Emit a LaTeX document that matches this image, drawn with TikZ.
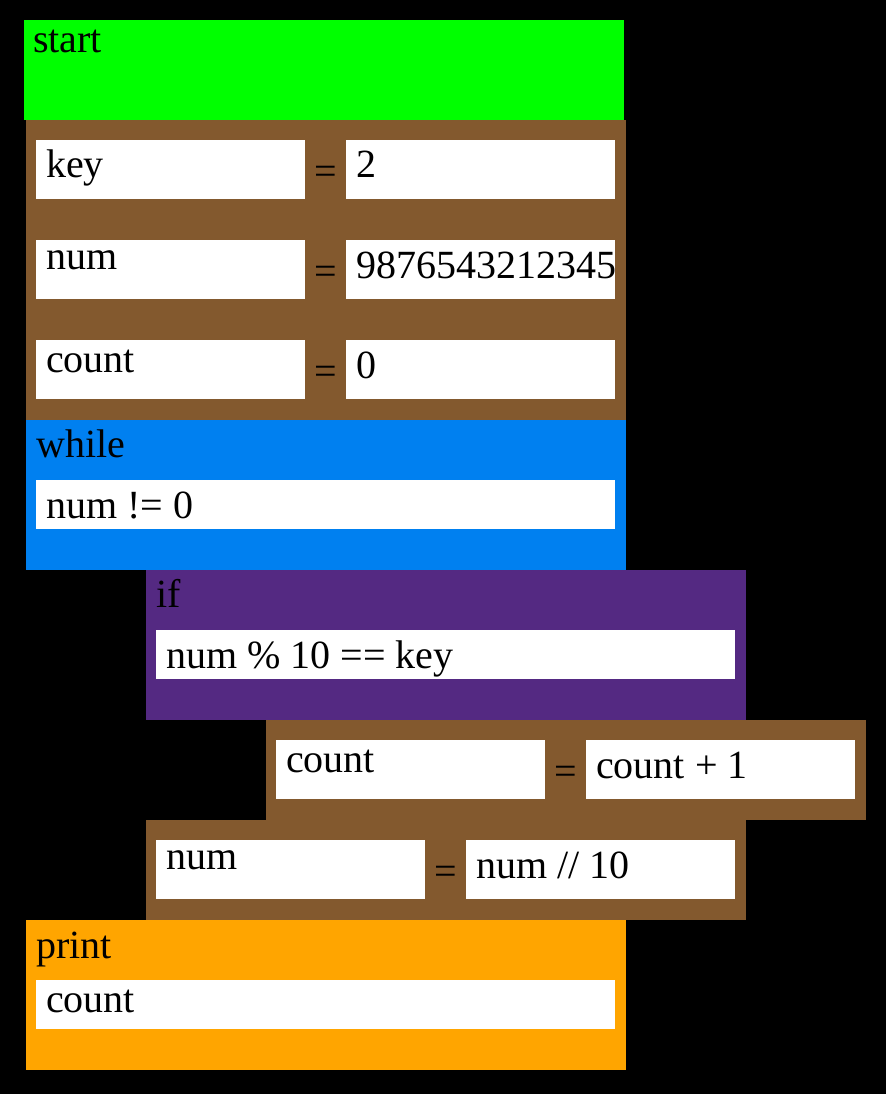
\documentclass[tikz,border=0pt]{standalone}
\usepackage{fontspec}
\setmainfont{Liberation Serif}

\definecolor{blkgreen}{RGB}{0,255,0}
\definecolor{blkbrown}{RGB}{131,89,46}
\definecolor{blkblue}{RGB}{0,128,240}
\definecolor{blkpurple}{RGB}{84,41,130}
\definecolor{blkorange}{RGB}{255,165,0}

\tikzset{
    block/.style={rectangle, inner sep=0pt, anchor=north west, minimum width=600pt},
    field/.style={rectangle, fill=white, inner sep=0pt, anchor=north west,
        minimum width=269pt, minimum height=59pt},
    word/.style={inner sep=0pt, text=black, font=\fontsize{40}{48}\selectfont},
}

\begin{document}
\begin{tikzpicture}[x=1pt,y=-1pt]
    % background
    \fill[black] (0,0) rectangle (886,1094);
    \useasboundingbox (0,0) rectangle (886,1094);

    % Blocks:
    \node[block, fill=blkgreen,  minimum height=100pt] (start)  at (24,20)   {};
    \node[block, fill=blkbrown,  minimum height=300pt] (assign) at (26,120)  {};
    \node[block, fill=blkblue,   minimum height=150pt] (loop)   at (26,420)  {};
    \node[block, fill=blkpurple, minimum height=150pt] (cond)   at (146,570) {};
    \node[block, fill=blkbrown,  minimum height=100pt] (incr)   at (266,720) {};
    \node[block, fill=blkbrown,  minimum height=100pt] (divide) at (146,820) {};
    \node[block, fill=blkorange, minimum height=150pt] (output) at (26,920)  {};

    % Block titles
    \node[word, anchor=base west] (starttxt) at (33,53)   {start};
    \node[word, anchor=base west] (looptxt)  at (36,457)  {while};
    \node[word, anchor=base west] (condtxt)  at (156,607) {if};
    \node[word, anchor=base west] (outtxt)   at (36,958)  {print};

    % Assignments: block left / row top / variable / value
    \foreach \x/\y/\var/\val [count=\i] in {
        26/120/key/2,
        26/220/num/9876543212345,
        26/320/count/0,
        266/720/count/count + 1,
        146/820/num/{num // 10}}
    {
        \node[field] (lbox\i) at ({\x+10},{\y+20}) {};
        \node[field] (rbox\i) at ({\x+320},{\y+20}) {};
        \node[word, anchor=north west] (lhs\i) at ({\x+20},{\y+30}) {\var};
        \node[word] (eq\i) at ({\x+300},{\y+55}) {=};
        \node[word, anchor=base west] (rhs\i) at ({\x+330},{\y+58}) {\val};
    }

    % Conditions and print argument
    \node[field, minimum width=579pt, minimum height=49pt] (loopbox) at (36,480)  {};
    \node[field, minimum width=579pt, minimum height=49pt] (condbox) at (156,630) {};
    \node[field, minimum width=579pt, minimum height=49pt] (outbox)  at (36,980)  {};
    \node[word, anchor=base west] (loopexpr) at (46,518)  {num != 0};
    \node[word, anchor=base west] (condexpr) at (166,668) {num \% 10 == key};
    \node[word, anchor=north west] (outexpr) at (46,990)  {count};
\end{tikzpicture}
\end{document}
